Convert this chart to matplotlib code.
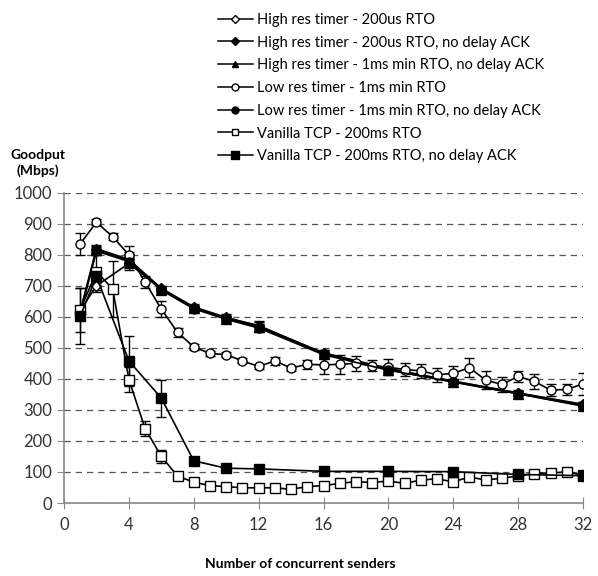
import matplotlib.pyplot as plt
import numpy as np

plt.rcParams['font.family'] = ['Lato', 'DejaVu Sans']

# x positions
x_sparse = [1, 2, 4, 6, 8, 10, 12, 16, 20, 24, 28, 32]
x_dense = list(range(1, 33))

# High res timer - 200us RTO (open diamond)
hr200 = [620, 700, 772, 690, 630, 597, 572, 482, 432, 393, 355, 318]
hr200_err = [15, 20, 20, 8, 8, 8, 12, 10, 10, 8, 8, 8]
# High res timer - 200us RTO, no delay ACK (filled diamond)
hr200_nd = [618, 820, 785, 692, 632, 598, 570, 484, 434, 392, 354, 316]
hr200_nd_err = [15, 12, 25, 8, 8, 10, 15, 10, 12, 8, 8, 8]
# High res timer - 1ms min RTO, no delay ACK (triangle)
hr1ms_nd = [615, 815, 782, 688, 628, 594, 566, 480, 430, 390, 352, 314]
hr1ms_nd_err = [15, 12, 20, 8, 8, 8, 12, 10, 10, 8, 8, 8]
# Low res timer - 1ms min RTO (open circle)
lr1ms = [835, 905, 858, 800, 712, 625, 550, 503, 482, 478, 458, 440,
         458, 435, 447, 445, 447, 450, 442, 438, 430, 426, 413, 418,
         436, 396, 382, 408, 392, 364, 366, 384]
lr1ms_err = [35, 10, 12, 28, 18, 25, 15, 10, 8, 8, 8, 8,
             12, 8, 15, 30, 30, 25, 18, 25, 20, 22, 22, 25,
             30, 30, 25, 18, 25, 18, 18, 35]
# Low res timer - 1ms min RTO, no delay ACK (filled circle)
lr1ms_nd = [610, 812, 778, 686, 626, 592, 564, 478, 428, 390, 352, 312]
lr1ms_nd_err = [15, 12, 20, 8, 8, 8, 12, 10, 10, 8, 8, 8]
# Vanilla TCP - 200ms RTO (open square)
van = [622, 745, 690, 398, 240, 150, 87, 67, 56, 53, 49, 49,
       49, 44, 53, 56, 63, 69, 66, 71, 63, 74, 78, 68,
       84, 74, 80, 87, 95, 97, 100, 90]
van_err = [70, 60, 90, 40, 25, 20, 8, 6, 5, 5, 5, 5,
           5, 5, 6, 6, 6, 8, 6, 8, 6, 8, 8, 8,
           8, 8, 8, 10, 12, 12, 12, 10]
# Vanilla TCP - 200ms RTO, no delay ACK (filled square)
van_nd = [602, 730, 458, 338, 136, 112, 110, 102, 102, 101, 92, 88]
van_nd_err = [90, 20, 80, 60, 8, 6, 6, 6, 6, 6, 6, 6]

fig = plt.figure(figsize=(5.98, 5.76), dpi=100)
ax = fig.add_axes([64 / 598, 1 - 503 / 576, (583 - 64) / 598, (503 - 192.7) / 576])

common = dict(color='black', ecolor='black', elinewidth=1.0, capsize=3.5,
              capthick=1.0, markeredgewidth=1.0, linewidth=1.2)

series = [
    (x_sparse, hr200, hr200_err, 'D', 'white', 'High res timer - 200us RTO', 5.5),
    (x_sparse, hr200_nd, hr200_nd_err, 'D', 'black', 'High res timer - 200us RTO, no delay ACK', 5.5),
    (x_sparse, hr1ms_nd, hr1ms_nd_err, '^', 'black', 'High res timer - 1ms min RTO, no delay ACK', 6.5),
    (x_dense, lr1ms, lr1ms_err, 'o', 'white', 'Low res timer - 1ms min RTO', 6.5),
    (x_sparse, lr1ms_nd, lr1ms_nd_err, 'o', 'black', 'Low res timer - 1ms min RTO, no delay ACK', 6.5),
    (x_dense, van, van_err, 's', 'white', 'Vanilla TCP - 200ms RTO', 6.5),
    (x_sparse, van_nd, van_nd_err, 's', 'black', 'Vanilla TCP - 200ms RTO, no delay ACK', 7),
]

for xs, ys, es, m, fc, lab, ms in series:
    ax.errorbar(xs, ys, yerr=es, marker=m, markerfacecolor=fc, markersize=ms, label=lab, **common)

ax.set_xlim(0, 32)
ax.set_ylim(0, 1000)
ax.set_xticks(range(0, 33, 4))
ax.set_yticks(range(0, 1001, 100))
ax.yaxis.grid(True, linestyle=(0, (5, 4)), color='#555555', linewidth=0.9)
ax.set_axisbelow(True)
for s in ['top', 'right']:
    ax.spines[s].set_visible(False)
for s in ['left', 'bottom']:
    ax.spines[s].set_color('#888888')
    ax.spines[s].set_linewidth(1.2)
ax.tick_params(axis='x', direction='inout', length=8, color='#888888', labelsize=12, pad=6, labelcolor='#333333')
ax.tick_params(axis='y', direction='out', length=5, color='#888888', labelsize=12, labelcolor='#333333')

fig.text(300 / 598, 1 - 564 / 576, 'Number of concurrent senders', ha='center', va='center',
         fontsize=10, fontweight='bold')
fig.text(38 / 598, 1 - 163 / 576, 'Goodput\n(Mbps)', ha='center', va='center',
         fontsize=10, fontweight='bold', linespacing=1.4)

leg_handles = [plt.Line2D([], [], color='black', marker=m, markerfacecolor=fc, markersize=ms - 1.5,
                          linewidth=1.1) for _, _, _, m, fc, _, ms in series]
fig.legend(leg_handles, [s[5] for s in series], loc='upper left',
           bbox_to_anchor=(212 / 598, 1 - 7 / 576), frameon=False, fontsize=10.5,
           handlelength=2.4, handletextpad=0.3, labelspacing=0.6, borderaxespad=0)

fig.savefig('out.png', dpi=100)
